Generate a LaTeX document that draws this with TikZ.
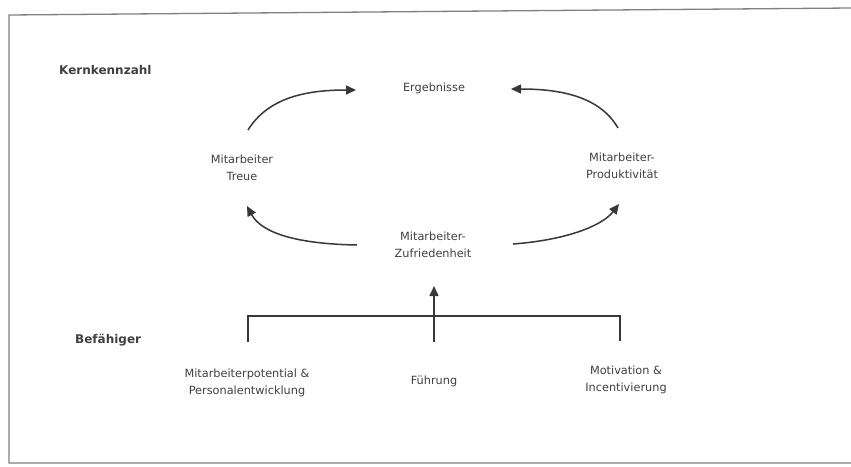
\documentclass[tikz,border=0pt]{standalone}
\usepackage{fontspec}
\setmainfont{DejaVu Sans}
\usetikzlibrary{arrows.meta}
\begin{document}
\begin{tikzpicture}[x=1pt,y=-1pt,
  lbl/.style={align=center,font=\fontsize{11.3}{17}\selectfont,text=black!75,inner sep=0pt},
  head/.style={font=\bfseries\fontsize{12}{14}\selectfont,text=black!75,inner sep=0pt},
  flow/.style={draw=black!78,line width=1.5pt,-{Triangle[length=10pt,width=9pt]}},
  bracket/.style={draw=black!78,line width=1.5pt},
  frame/.style={draw=black!50,line width=1.3pt}]
\useasboundingbox (0,0) rectangle (851,466);
\fill[white] (0,0) rectangle (851,466);
% page frame
\draw[frame] (851,8) -- (9,15) -- (9,463) -- (851,463);

% section headings
\node[head,anchor=west] (kern) at (59,70) {Kernkennzahl};
\node[head,anchor=west] (bef)  at (75,340) {Befähiger};

% result chain
\node[lbl] (erg)  at (434,88)  {Ergebnisse};
\node[lbl] (treu) at (242,168) {Mitarbeiter\\Treue};
\node[lbl] (prod) at (622,166) {Mitarbeiter-\\Produktivität};
\node[lbl] (zuf)  at (433,245) {Mitarbeiter-\\Zufriedenheit};

% enablers
\node[lbl] (pot)  at (247,383) {Mitarbeiterpotential \&\\Personalentwicklung};
\node[lbl] (fue)  at (434,381) {Führung};
\node[lbl] (mot)  at (626,380) {Motivation \&\\Incentivierung};

% arc end points
\coordinate (tlS) at (248,130);
\coordinate (tlE) at (356,90);
\coordinate (trS) at (618,128);
\coordinate (trE) at (511,89);
\coordinate (blS) at (357,245);
\coordinate (blE) at (247,206);
\coordinate (brS) at (513,244);
\coordinate (brE) at (619,204);

\draw[flow] (tlS) .. controls (268,98) and (305,90) .. (tlE);
\draw[flow] (trS) .. controls (600,97) and (562,89) .. (trE);
\draw[flow] (blS) .. controls (300,244) and (262,234) .. (blE);
\draw[flow] (brS) .. controls (566,240) and (602,226) .. (brE);

% bracket joining the enablers
\coordinate (bl) at (248,342);
\coordinate (br) at (620,341);
\coordinate (bm) at (434,342);
\coordinate (up) at (434,286);
\draw[bracket] (bl) -- (248,316) -- (620,316) -- (br);
\draw[flow] (bm) -- (up);
\end{tikzpicture}
\end{document}
